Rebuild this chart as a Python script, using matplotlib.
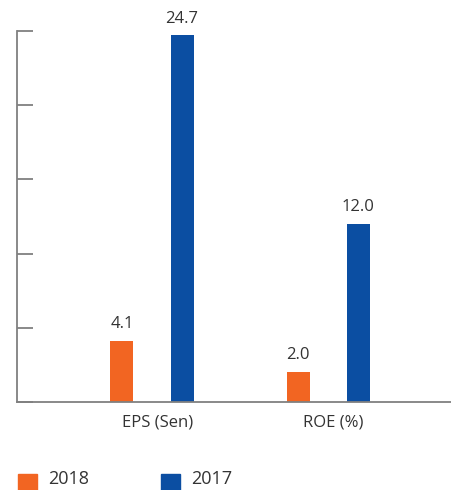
import matplotlib.pyplot as plt
from matplotlib.patches import Rectangle
import numpy as np

plt.rcParams.update({'font.family': ['Open Sans', 'DejaVu Sans']})

categories = ['EPS (Sen)', 'ROE (%)']
years = ['2018', '2017']
values_2018 = [4.1, 2.0]
values_2017 = [24.7, 12.0]
colors = {'2018': '#F26522', '2017': '#0B4EA2'}
grey = '#808080'
txt = '#333333'

W, H = 451, 490
fig = plt.figure(figsize=(W / 100, H / 100), dpi=100)
ax = fig.add_axes([16.5 / W, 88 / H, (W - 16.5) / W, (402 - 31) / H])

x = np.arange(len(categories))
bw, off = 0.131, 0.171
for vals, yr, sgn in [(values_2018, '2018', -1), (values_2017, '2017', 1)]:
    bars = ax.bar(x + sgn * off, vals, bw, color=colors[yr], label=yr)
    for b, v in zip(bars, vals):
        ax.text(b.get_x() + b.get_width() / 2, v + 0.6, f'{v:.1f}',
                ha='center', va='bottom', fontsize=12, color=txt)

ax.set_xlim(-0.769, 1.697)
ax.set_ylim(0, 25)
ax.set_yticks(np.arange(0, 26, 5))
ax.set_yticklabels([])
ax.tick_params(axis='y', direction='in', length=11.5, width=1.3,
               color=grey)
ax.set_xticks(x + 0.03)
ax.set_xticklabels(categories, fontsize=12, color=txt)
ax.tick_params(axis='x', length=0, pad=9)
for s in ['top', 'right']:
    ax.spines[s].set_visible(False)
for s in ['left', 'bottom']:
    ax.spines[s].set_color(grey)
    ax.spines[s].set_linewidth(1.3)

# legend drawn by hand along the bottom edge
for yr, x0, xt in [('2018', 18, 48), ('2017', 161, 191)]:
    fig.patches.append(Rectangle((x0 / W, -3 / H), 19 / W, 19 / H,
                                 transform=fig.transFigure,
                                 color=colors[yr]))
    fig.text(xt / W, 2 / H, yr, fontsize=13, color=txt, va='bottom')

fig.savefig('out.png', dpi=100)
